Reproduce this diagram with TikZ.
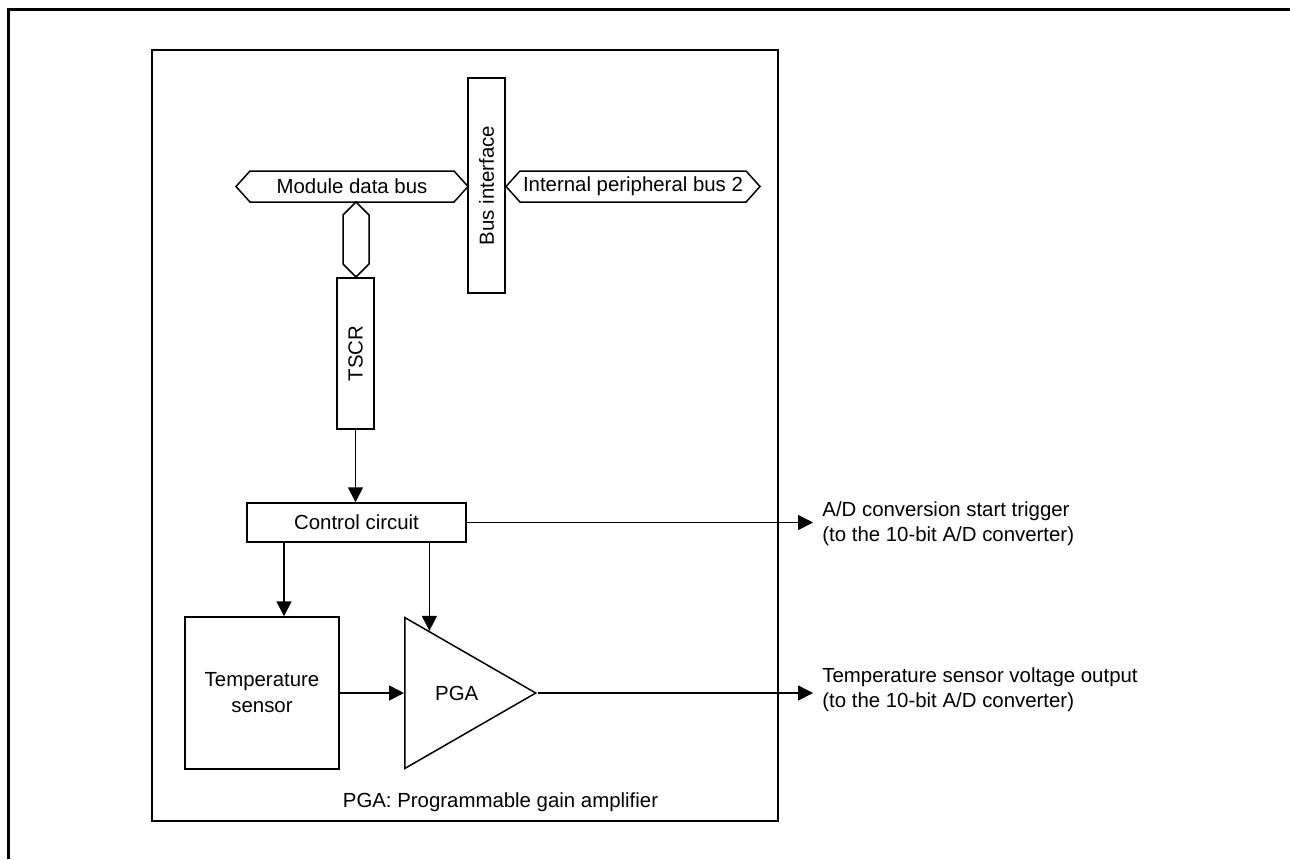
\documentclass[tikz,border=0pt]{standalone}
\usepackage{fontspec}
\setmainfont{Liberation Sans}
\usetikzlibrary{arrows.meta,calc,positioning,shapes.geometric,shapes.symbols}

\begin{document}
\begin{tikzpicture}[
  x=0.5pt,
  y=-0.5pt,
  font=\fontsize{10.2}{12.5}\selectfont,
  block/.style={
    draw=black,
    line width=0.75pt,
    inner sep=0pt,
    align=center
  },
  bus/.style={block,shape=signal,signal to=west and east,signal pointer angle=96},
  flow/.style={
    -{Triangle[length=7.5pt,width=7.5pt]},
    draw=black,
    line width=0.85pt
  },
  outtext/.style={anchor=west,align=left,inner xsep=4.5pt}
]
\useasboundingbox (0,0) rectangle (1290,859);

% Page frame (top and left only)
\draw[line width=1.5pt] (1290,9.5) -- (8.5,9.5) -- (8.5,859);

% Module outline
\node[block,minimum width=313pt,minimum height=385.5pt] (module) at (465,435.5) {};

% Bus side
\node[block,rotate=90,minimum width=107.5pt,minimum height=18.5pt] (busif)
  at (486.5,185.5) {Bus interface};
\node[bus,minimum width=116pt,minimum height=15.5pt] (mdbus)
  at (352,186.5) {Module data bus};
\node[bus,minimum width=127pt,minimum height=15.5pt] (ipbus)
  at (633,186.5) {Internal peripheral bus 2};
\node[bus,rotate=90,signal pointer angle=90,minimum width=37.5pt,minimum height=13pt] (tap)
  at (356,239.5) {};
\node[block,rotate=90,minimum width=75.5pt,minimum height=18.5pt] (tscr)
  at (355.5,353.5) {TSCR};

% Control and analog part
\node[block,minimum width=109.5pt,minimum height=19.5pt] (ctrl)
  at (356.5,522.5) {Control circuit};
\node[block,minimum width=77pt,minimum height=76pt,
  font=\fontsize{10.2}{13}\selectfont] (tsens)
  at (262,693) {Temperature\\sensor};
\node[block,isosceles triangle,isosceles triangle stretches,shape border rotate=0,
  minimum width=75.5pt,minimum height=65.5pt,anchor=lower side] (pga)
  at (404,693) {\hspace*{4pt}PGA};
\coordinate (pgatop) at ($(pga.left corner)!0.19!(pga.apex)$);

% Outputs
\node[outtext] (trig) at (813,524)
  {A/D conversion start trigger\\(to the 10-bit A/D converter)};
\node[outtext] (vout) at (813,690)
  {Temperature sensor voltage output\\(to the 10-bit A/D converter)};
\node (note) at (500.5,802) {PGA: Programmable gain amplifier};

% Signal flow
\draw[flow] (tscr.west) -- (tscr.west |- ctrl.north);
\draw[flow] ([xshift=11pt]tsens.north |- ctrl.south) -- ([xshift=11pt]tsens.north);
\draw[flow] (pgatop |- ctrl.south) -- (pgatop);
\draw[flow] (tsens.east) -- (tsens.east -| pga.lower side);
\draw[flow] (ctrl.east) -- (ctrl.east -| trig.west);
\draw[flow] (pga.apex) -- (pga.apex -| vout.west);
\end{tikzpicture}
\end{document}
